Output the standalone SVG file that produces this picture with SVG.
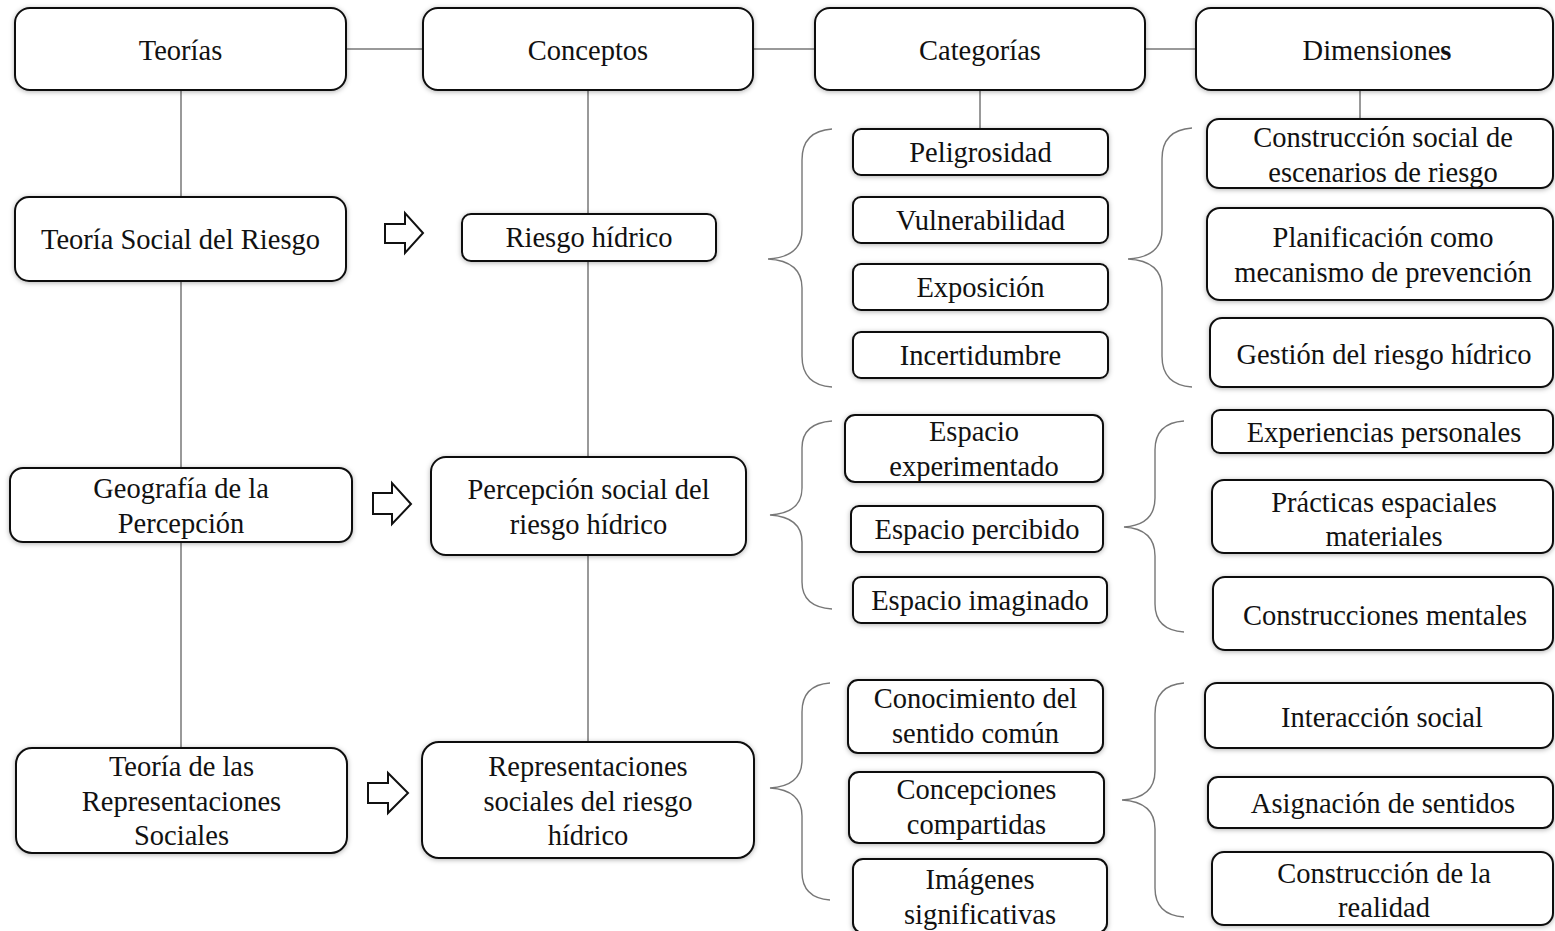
<svg xmlns="http://www.w3.org/2000/svg" width="1555" height="931" viewBox="0 0 1555 931">
  <defs>
    <filter id="soft" x="-10%" y="-20%" width="120%" height="140%">
      <feDropShadow dx="0" dy="1" stdDeviation="2.5" flood-color="#000" flood-opacity="0.3"/>
    </filter>
    <style>
      .box { fill: #fff; stroke: #111; stroke-width: 2; filter: url(#soft); }
      .lbl { font-family: "Liberation Serif", "Times New Roman", serif; font-size: 28.5px; fill: #111; text-anchor: middle; }
      .link { stroke: #777; stroke-width: 1.5; fill: none; }
      .brace { stroke: #777; stroke-width: 1.4; fill: none; }
      .arrow { fill: #fff; stroke: #111; stroke-width: 2; stroke-linejoin: miter; }
    </style>
  </defs>
  <rect width="1555" height="931" fill="#fff"/>

  <!-- connectors: header links, column spines, braces, block arrows -->
  <g id="connectors">
    <line class="link" x1="346" y1="49" x2="423" y2="49"/>
    <line class="link" x1="753" y1="49" x2="815" y2="49"/>
    <line class="link" x1="1145" y1="49" x2="1196" y2="49"/>

    <line class="link" x1="181" y1="90" x2="181" y2="197"/>
    <line class="link" x1="181" y1="281" x2="181" y2="468"/>
    <line class="link" x1="181" y1="542" x2="181" y2="748"/>

    <line class="link" x1="588" y1="90" x2="588" y2="214"/>
    <line class="link" x1="588" y1="261" x2="588" y2="457"/>
    <line class="link" x1="588" y1="555" x2="588" y2="742"/>

    <line class="link" x1="980" y1="90" x2="980" y2="129"/>
    <line class="link" x1="1360" y1="90" x2="1360" y2="119"/>

    <path class="brace" d="M832,129 Q802,131 802,160 L802,230 Q802,257 768,259 Q802,261 802,288 L802,356 Q802,385 832,387"/>
    <path class="brace" d="M1192,128 Q1162,130 1162,159 L1162,230 Q1162,257 1128,259 Q1162,261 1162,288 L1162,356 Q1162,385 1192,387"/>

    <path class="brace" d="M832,421 Q802,423 802,448 L802,488 Q802,513 770,515 Q802,517 802,542 L802,582 Q802,607 832,609"/>
    <path class="brace" d="M1184,421 Q1155,423 1155,450 L1155,498 Q1155,525 1124,527 Q1155,529 1155,556 L1155,604 Q1155,630 1184,632"/>

    <path class="brace" d="M830,683 Q802,685 802,712 L802,760 Q802,786 770,788 Q802,790 802,816 L802,872 Q802,898 830,900"/>
    <path class="brace" d="M1184,683 Q1155,685 1155,714 L1155,771 Q1155,798 1122,800 Q1155,802 1155,829 L1155,888 Q1155,915 1184,917"/>

    <path class="arrow" d="M385,224 L405,224 L405,213 L423,233 L405,253 L405,243 L385,243 Z"/>
    <path class="arrow" d="M373,493 L392,493 L392,483 L411,504 L392,524 L392,514 L373,514 Z"/>
    <path class="arrow" d="M368,783 L388,783 L388,773 L408,793 L388,813 L388,803 L368,803 Z"/>
  </g>

  <!-- header row -->
  <g id="h-teorias">
    <rect class="box" x="15" y="8" width="331" height="82" rx="15"/>
    <text class="lbl" x="180.5" y="60">Teorías</text>
  </g>
  <g id="h-conceptos">
    <rect class="box" x="423" y="8" width="330" height="82" rx="15"/>
    <text class="lbl" x="588" y="60">Conceptos</text>
  </g>
  <g id="h-categorias">
    <rect class="box" x="815" y="8" width="330" height="82" rx="15"/>
    <text class="lbl" x="980" y="60">Categorías</text>
  </g>
  <g id="h-dimensiones">
    <rect class="box" x="1196" y="8" width="357" height="82" rx="15"/>
    <text class="lbl" x="1377" y="60">Dimensione<tspan font-weight="bold">s</tspan></text>
  </g>

  <!-- theories -->
  <g id="t-riesgo">
    <rect class="box" x="15" y="197" width="331" height="84" rx="14"/>
    <text class="lbl" x="180.5" y="249">Teoría Social del Riesgo</text>
  </g>
  <g id="t-geografia">
    <rect class="box" x="10" y="468" width="342" height="74" rx="13"/>
    <text class="lbl" x="181" y="498">Geografía de la</text>
    <text class="lbl" x="181" y="533">Percepción</text>
  </g>
  <g id="t-representaciones">
    <rect class="box" x="16" y="748" width="331" height="105" rx="16"/>
    <text class="lbl" x="181.5" y="776">Teoría de las</text>
    <text class="lbl" x="181.5" y="810.5">Representaciones</text>
    <text class="lbl" x="181.5" y="845">Sociales</text>
  </g>

  <!-- concepts -->
  <g id="c-riesgo">
    <rect class="box" x="462" y="214" width="254" height="47" rx="9"/>
    <text class="lbl" x="589" y="247">Riesgo hídrico</text>
  </g>
  <g id="c-percepcion">
    <rect class="box" x="431" y="457" width="315" height="98" rx="15"/>
    <text class="lbl" x="588.5" y="499">Percepción social del</text>
    <text class="lbl" x="588.5" y="533.5">riesgo hídrico</text>
  </g>
  <g id="c-representaciones">
    <rect class="box" x="422" y="742" width="332" height="116" rx="17"/>
    <text class="lbl" x="588" y="776">Representaciones</text>
    <text class="lbl" x="588" y="810.5">sociales del riesgo</text>
    <text class="lbl" x="588" y="845">hídrico</text>
  </g>

  <!-- categories -->
  <g id="k-peligrosidad">
    <rect class="box" x="853" y="129" width="255" height="46" rx="8"/>
    <text class="lbl" x="980.5" y="162">Peligrosidad</text>
  </g>
  <g id="k-vulnerabilidad">
    <rect class="box" x="853" y="197" width="255" height="46" rx="8"/>
    <text class="lbl" x="980.5" y="230">Vulnerabilidad</text>
  </g>
  <g id="k-exposicion">
    <rect class="box" x="853" y="264" width="255" height="46" rx="8"/>
    <text class="lbl" x="980.5" y="297">Exposición</text>
  </g>
  <g id="k-incertidumbre">
    <rect class="box" x="853" y="332" width="255" height="46" rx="8"/>
    <text class="lbl" x="980.5" y="365">Incertidumbre</text>
  </g>
  <g id="k-experimentado">
    <rect class="box" x="845" y="415" width="258" height="67" rx="10"/>
    <text class="lbl" x="974" y="441">Espacio</text>
    <text class="lbl" x="974" y="476">experimentado</text>
  </g>
  <g id="k-percibido">
    <rect class="box" x="851" y="506" width="252" height="46" rx="8"/>
    <text class="lbl" x="977" y="539">Espacio percibido</text>
  </g>
  <g id="k-imaginado">
    <rect class="box" x="853" y="577" width="254" height="46" rx="8"/>
    <text class="lbl" x="980" y="610">Espacio imaginado</text>
  </g>
  <g id="k-sentido">
    <rect class="box" x="848" y="680" width="255" height="73" rx="10"/>
    <text class="lbl" x="975.5" y="708">Conocimiento del</text>
    <text class="lbl" x="975.5" y="743">sentido común</text>
  </g>
  <g id="k-concepciones">
    <rect class="box" x="849" y="772" width="255" height="71" rx="10"/>
    <text class="lbl" x="976.5" y="799">Concepciones</text>
    <text class="lbl" x="976.5" y="834">compartidas</text>
  </g>
  <g id="k-imagenes">
    <rect class="box" x="853" y="859" width="254" height="74" rx="10"/>
    <text class="lbl" x="980" y="889">Imágenes</text>
    <text class="lbl" x="980" y="923.5">significativas</text>
  </g>

  <!-- dimensions -->
  <g id="d-escenarios">
    <rect class="box" x="1207" y="119" width="346" height="69" rx="12"/>
    <text class="lbl" x="1383" y="147">Construcción social de</text>
    <text class="lbl" x="1383" y="181.5">escenarios de riesgo</text>
  </g>
  <g id="d-planificacion">
    <rect class="box" x="1207" y="208" width="346" height="92" rx="13"/>
    <text class="lbl" x="1383" y="246.5">Planificación como</text>
    <text class="lbl" x="1383" y="281.5">mecanismo de prevención</text>
  </g>
  <g id="d-gestion">
    <rect class="box" x="1210" y="318" width="343" height="69" rx="12"/>
    <text class="lbl" x="1384" y="364">Gestión del riesgo hídrico</text>
  </g>
  <g id="d-experiencias">
    <rect class="box" x="1212" y="410" width="341" height="43" rx="8"/>
    <text class="lbl" x="1384" y="442">Experiencias personales</text>
  </g>
  <g id="d-practicas">
    <rect class="box" x="1212" y="480" width="341" height="73" rx="12"/>
    <text class="lbl" x="1384" y="511.5">Prácticas espaciales</text>
    <text class="lbl" x="1384" y="545.5">materiales</text>
  </g>
  <g id="d-mentales">
    <rect class="box" x="1213" y="577" width="340" height="73" rx="12"/>
    <text class="lbl" x="1385" y="624.5">Construcciones mentales</text>
  </g>
  <g id="d-interaccion">
    <rect class="box" x="1205" y="683" width="348" height="65" rx="12"/>
    <text class="lbl" x="1382" y="726.5">Interacción social</text>
  </g>
  <g id="d-asignacion">
    <rect class="box" x="1208" y="777" width="345" height="51" rx="10"/>
    <text class="lbl" x="1383" y="812.5">Asignación de sentidos</text>
  </g>
  <g id="d-realidad">
    <rect class="box" x="1212" y="852" width="341" height="73" rx="12"/>
    <text class="lbl" x="1384" y="882.5">Construcción de la</text>
    <text class="lbl" x="1384" y="916.5">realidad</text>
  </g>
</svg>
